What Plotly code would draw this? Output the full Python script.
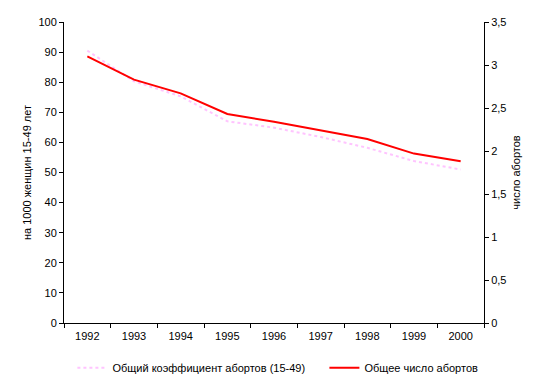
import plotly.graph_objects as go

years = ["1992", "1993", "1994", "1995", "1996", "1997", "1998", "1999", "2000"]
rate_per_1000 = [90.5, 80.3, 75.3, 67.0, 64.9, 61.8, 58.2, 53.8, 51.0]
total_abortions = [3.10, 2.83, 2.67, 2.43, 2.34, 2.24, 2.14, 1.97, 1.88]
left_ticks = [0, 10, 20, 30, 40, 50, 60, 70, 80, 90, 100]
right_ticks = [0, 0.5, 1, 1.5, 2, 2.5, 3, 3.5]

font = dict(family="Liberation Sans, Arial, sans-serif", size=11, color="#000000")

fig = go.Figure()
fig.add_trace(go.Scatter(
    x=years, y=rate_per_1000, mode="lines",
    name="Общий коэффициент абортов (15-49)",
    line=dict(color="#FFC4FF", width=2, dash="dot"),
    yaxis="y", legend="legend"))
fig.add_trace(go.Scatter(
    x=years, y=total_abortions, mode="lines",
    name="Общее число абортов",
    line=dict(color="#FF0000", width=2),
    yaxis="y2", legend="legend2"))

fig.update_layout(
    width=547, height=389,
    margin=dict(l=56, r=71, t=14, b=74, autoexpand=False),
    paper_bgcolor="white", plot_bgcolor="white",
    font=font,
    separators=", ",
    showlegend=True,
    legend=dict(orientation="h", x=0.02, xanchor="left",
                yref="container", y=0.075, yanchor="middle",
                font=font, itemwidth=30),
    legend2=dict(orientation="h", x=0.62, xanchor="left",
                 yref="container", y=0.075, yanchor="middle",
                 font=font, itemwidth=30),
    xaxis=dict(type="category", showline=True, linecolor="#000", linewidth=1,
               ticks="outside", ticklen=4, tickcolor="#000", tickson="boundaries",
               showgrid=False, zeroline=False, range=[-0.5, 8.5], automargin=False,
               ticklabelstandoff=3),
    yaxis=dict(range=[0, 100], tickvals=left_ticks, showline=True, linecolor="#000",
               linewidth=1, ticks="outside", ticklen=4, tickcolor="#000",
               showgrid=False, zeroline=False, automargin=False,
               title=dict(text="на 1000 женщин 15-49 лет", font=font, standoff=4)),
    yaxis2=dict(range=[0, 3.5], tickvals=right_ticks, overlaying="y", side="right",
                showline=True, linecolor="#000", linewidth=1, ticks="outside",
                ticklen=4, tickcolor="#000", showgrid=False, zeroline=False,
                automargin=False,
                title=dict(text="число абортов", font=font, standoff=6)),
)

fig.write_html("out.html")
